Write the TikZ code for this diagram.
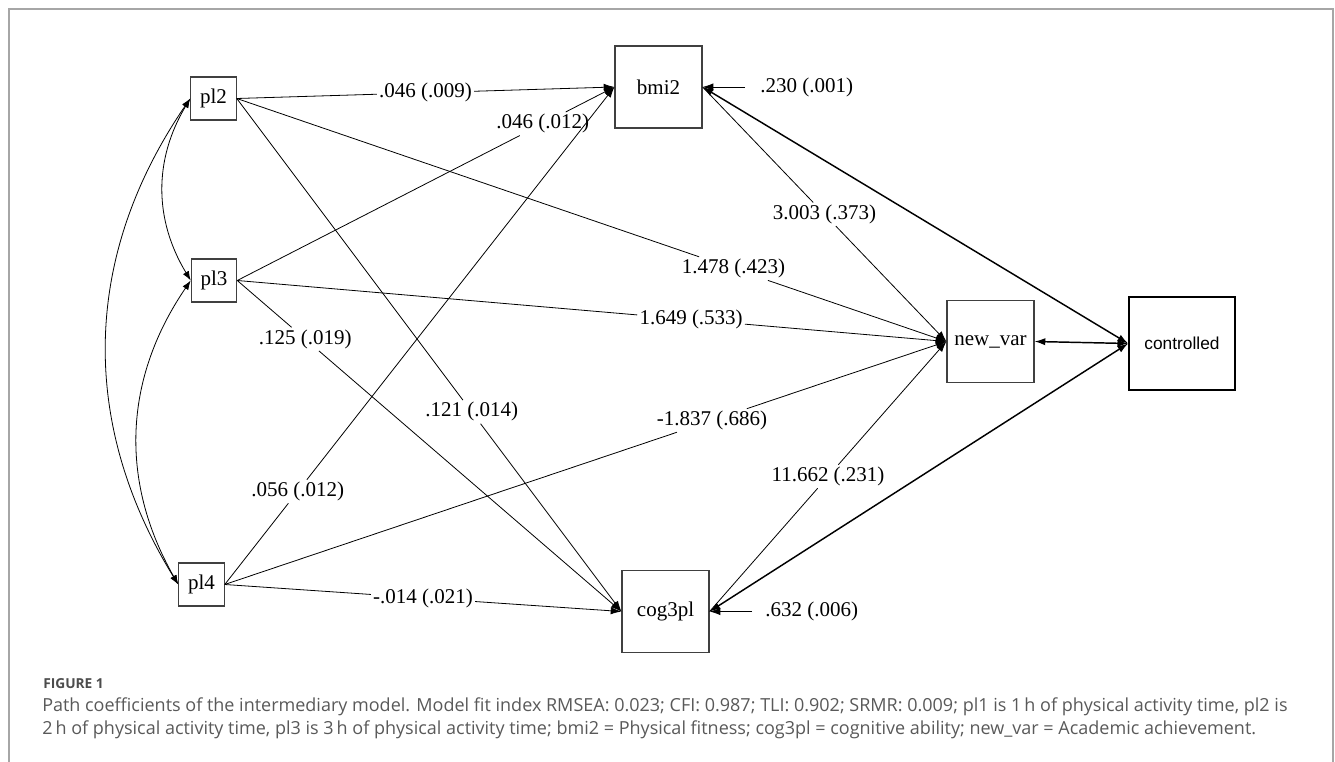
\documentclass[tikz,border=0pt]{standalone}
\usepackage{fontspec}
\setmainfont{Liberation Serif}
\newfontfamily\capfont{Open Sans}
\newfontfamily\sansf{Liberation Sans}
\usetikzlibrary{arrows.meta,calc}
\begin{document}
\begin{tikzpicture}[x=0.75pt,y=-0.75pt,
  txt/.style={font=\fontsize{15.75}{18}\selectfont},
  bigbox/.style={draw=black!75, line width=0.9pt, minimum width=65.25pt, minimum height=61.5pt, inner sep=0pt, txt},
  smallbox/.style={draw=black!75, line width=0.9pt, minimum width=34pt, minimum height=32.25pt, inner sep=0pt, txt},
  lab/.style={inner sep=1.5pt, txt},
  seg/.style={line width=0.6pt},
  pathline/.style={line width=0.6pt, -{Latex[length=8pt,width=5.5pt]}},
  covline/.style={line width=1.1pt, {Latex[length=8pt,width=5.5pt]}-{Latex[length=8pt,width=5.5pt]}},
  corrline/.style={line width=0.6pt, {Latex[length=7pt,width=5pt]}-{Latex[length=7pt,width=5pt]}},
  frameline/.style={draw=black!35, line width=1.4pt},
  captxt/.style={anchor=west, inner sep=0pt, text=black!65, font=\capfont\fontsize{13.5}{16}\selectfont},
]
\useasboundingbox (0,0) rectangle (1335,762);
\draw[frameline] (9,762) -- (9,9) -- (1333,9) -- (1333,762);

% variables
\node[smallbox] (pl2) at (213.5,98.5) {pl2};
\node[smallbox] (pl3) at (214,280.5) {pl3};
\node[smallbox] (pl4) at (201.5,584.5) {pl4};
\node[bigbox] (bmi2) at (658.5,87) {bmi2};
\node[bigbox] (cog) at (665.5,611.5) {cog3pl};
\node[bigbox] (nv) at (990.5,341.5) {new\_var};
\node[bigbox, draw=black, line width=1.3pt, minimum width=79.5pt, minimum height=69.75pt,
      font=\sansf\fontsize{13}{15}\selectfont] (ctl) at (1182,343.5) {controlled};

% paths with labels
\node[lab] (l1) at ($(pl2.east)!0.5!(bmi2.west)$) {.046 (.009)};
\draw[seg] (pl2.east) -- (l1); \draw[pathline] (l1) -- (bmi2.west);

\node[lab] (l2) at ($(pl3.east)!0.81!(bmi2.west)$) {.046 (.012)};
\draw[seg] (pl3.east) -- (l2); \draw[pathline] (l2) -- (bmi2.west);

\node[lab] (l3) at ($(pl4.east)!0.187!(bmi2.west)$) {.056 (.012)};
\draw[seg] (pl4.east) -- (l3); \draw[pathline] (l3) -- (bmi2.west);

\node[lab] (l4) at ($(pl2.east)!0.611!(cog.west)$) {.121 (.014)};
\draw[seg] (pl2.east) -- (l4); \draw[pathline] (l4) -- (cog.west);

\node[lab] (l5) at ($(pl3.east)!0.177!(cog.west)$) {.125 (.019)};
\draw[seg] (pl3.east) -- (l5); \draw[pathline] (l5) -- (cog.west);

\node[lab] (l6) at ($(pl4.east)!0.5!(cog.west)$) {-.014 (.021)};
\draw[seg] (pl4.east) -- (l6); \draw[pathline] (l6) -- (cog.west);

\node[lab] (l7) at ($(pl2.east)!0.70!(nv.west)$) {1.478 (.423)};
\draw[seg] (pl2.east) -- (l7); \draw[pathline] (l7) -- (nv.west);

\node[lab] (l8) at ($(pl3.east)!0.64!(nv.west)$) {1.649 (.533)};
\draw[seg] (pl3.east) -- (l8); \draw[pathline] (l8) -- (nv.west);

\node[lab] (l9) at ($(pl4.east)!0.675!(nv.west)$) {-1.837 (.686)};
\draw[seg] (pl4.east) -- (l9); \draw[pathline] (l9) -- (nv.west);

\node[lab] (l10) at ($(bmi2.east)!0.5!(nv.west)$) {3.003 (.373)};
\draw[seg] (bmi2.east) -- (l10); \draw[pathline] (l10) -- (nv.west);

\node[lab] (l11) at ($(cog.east)!0.5!(nv.west)$) {11.662 (.231)};
\draw[seg] (cog.east) -- (l11); \draw[pathline] (l11) -- (nv.west);

% error terms
\coordinate (e1) at (745,87);
\node[lab, anchor=west] (l12) at (758,87) {.230 (.001)};
\draw[pathline] (e1) -- (bmi2.east);
\coordinate (e2) at (752,611.5);
\node[lab, anchor=west] (l13) at (763,611.5) {.632 (.006)};
\draw[pathline] (e2) -- (cog.east);

% controlled covariances
\draw[covline] (bmi2.east) -- (ctl.west);
\draw[covline] (nv.east) -- (ctl.west);
\draw[covline] (cog.east) -- (ctl.west);

% correlations among pl
\draw[corrline] (pl2.west) to[bend right=31] (pl3.west);
\draw[corrline] (pl3.west) to[bend right=32] (pl4.west);
\draw[corrline] (pl2.west) to[bend right=33] (pl4.west);

% caption
\node[captxt, text=black!70, font=\capfont\bfseries\fontsize{10.3}{12}\selectfont] (fig) at (43,684) {FIGURE 1};
\node[captxt] (c1) at (42,707) {Path coefficients of the intermediary model. Model fit index RMSEA: 0.023; CFI: 0.987; TLI: 0.902; SRMR: 0.009; pl1 is 1\,h of physical activity time, pl2 is};
\node[captxt] (c2) at (42,730) {2\,h of physical activity time, pl3 is 3\,h of physical activity time; bmi2 = Physical fitness; cog3pl = cognitive ability; new\_var = Academic achievement.};
\end{tikzpicture}
\end{document}
